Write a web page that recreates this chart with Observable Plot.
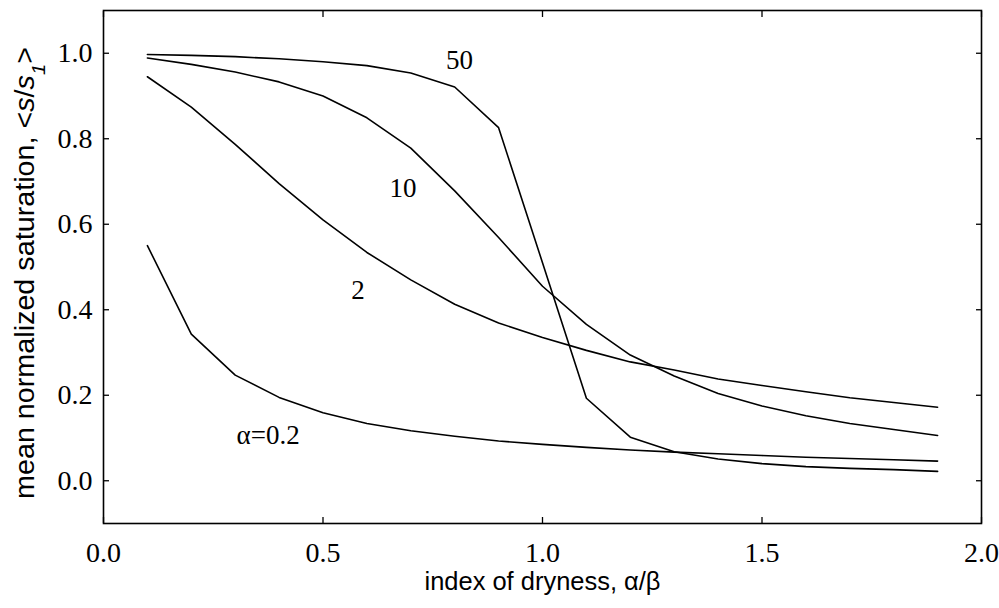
<!DOCTYPE html>
<html><head><meta charset="utf-8">
<script src="https://cdn.jsdelivr.net/npm/d3@7"></script>
<script src="https://cdn.jsdelivr.net/npm/@observablehq/plot@0.6"></script>
<style>body{margin:0;background:#fff}svg{display:block}</style>
</head><body><div id="chart"></div>
<script>
const dryness = [0.1,0.2,0.3,0.4,0.5,0.6,0.7,0.8,0.9,1.0,1.1,1.2,1.3,1.4,1.5,1.6,1.7,1.8,1.9];
const alpha02 = [0.550,0.343,0.247,0.195,0.159,0.134,0.117,0.104,0.093,0.085,0.078,0.072,0.067,0.063,0.059,0.055,0.052,0.049,0.046];
const alpha2  = [0.945,0.874,0.787,0.695,0.610,0.534,0.470,0.413,0.369,0.335,0.305,0.278,0.259,0.238,0.223,0.208,0.194,0.183,0.172];
const alpha10 = [0.989,0.974,0.956,0.933,0.900,0.849,0.778,0.678,0.569,0.455,0.366,0.294,0.245,0.204,0.175,0.152,0.134,0.120,0.106];
const alpha50 = [0.997,0.995,0.992,0.987,0.980,0.971,0.954,0.921,0.826,0.510,0.193,0.102,0.068,0.051,0.040,0.033,0.029,0.026,0.022];
const seriesNames = ["0.2","2","10","50"];
const seriesValues = [alpha02, alpha2, alpha10, alpha50];
const curveLabels = ["α=0.2","2","10","50"];
const curveLabelX = [0.375,0.58,0.682,0.811];
const curveLabelY = [0.107,0.445,0.685,0.984];
const xTicks = [0.0,0.5,1.0,1.5,2.0];
const yTicks = [0.0,0.2,0.4,0.6,0.8,1.0];
const xTitle = "index of dryness, α/β";
const yTitle = "mean normalized saturation, <s/s1>";

const rows = [];
seriesNames.forEach((s, i) => dryness.forEach((x, j) => rows.push({series: s, x, y: seriesValues[i][j]})));
const labelRows = curveLabels.map((t, i) => ({t, x: curveLabelX[i], y: curveLabelY[i]}));
const fmt = d3.format(".1f");

const chart = Plot.plot({
  width: 999, height: 608,
  marginLeft: 103, marginRight: 18, marginTop: 10, marginBottom: 85,
  x: {domain: [0, 2]},
  y: {domain: [-0.1, 1.1]},
  style: {fontFamily: "Liberation Serif", fontSize: "28px", color: "#000", background: "#fff"},
  marks: [
    Plot.axisX({ticks: xTicks, tickFormat: fmt, tickSize: -6, tickPadding: 25, label: null, strokeWidth: 1.3}),
    Plot.axisX({anchor: "top", ticks: xTicks, tickFormat: () => "", tickSize: -6, label: null, strokeWidth: 1.3}),
    Plot.axisY({ticks: yTicks, tickFormat: fmt, tickSize: -6, tickPadding: 17, label: null, strokeWidth: 1.3}),
    Plot.axisY({anchor: "right", ticks: yTicks, tickFormat: () => "", tickSize: -6, label: null, strokeWidth: 1.3}),
    Plot.frame({stroke: "#000", strokeWidth: 1.6}),
    Plot.line(rows, {x: "x", y: "y", z: "series", stroke: "#000", strokeWidth: 1.6}),
    Plot.text(labelRows, {x: "x", y: "y", text: "t", fontFamily: "Liberation Serif", fontSize: 27, fill: "#000"}),
    Plot.text([xTitle], {frameAnchor: "bottom", dy: 66, fontFamily: "Liberation Sans", fontSize: 26, fill: "#000", className: "xtitle"}),
    Plot.text([yTitle], {frameAnchor: "left", textAnchor: "middle", rotate: -90, dx: -78, dy: 6, fontFamily: "Liberation Sans", fontSize: 27, fill: "#000", className: "ytitle"})
  ]
});
document.getElementById("chart").appendChild(chart);
const xt = chart.querySelector(".xtitle text");
if (xt) { xt.setAttribute("textLength", "236"); xt.setAttribute("lengthAdjust", "spacingAndGlyphs"); }
// italic s and subscript 1 in y title
const yt = chart.querySelector(".ytitle text");
if (yt) {
  yt.textContent = "";
  const ns = "http://www.w3.org/2000/svg";
  const parts = [["mean normalized saturation, <", null], ["s", "italic"], ["/", null], ["s", "italic"], ["1", "sub"], [">", null]];
  for (const [t, st] of parts) {
    const sp = document.createElementNS(ns, "tspan");
    sp.textContent = t;
    if (st === "italic") sp.setAttribute("font-style", "italic");
    if (st === "sub") { sp.setAttribute("font-size", "19"); sp.setAttribute("font-style", "italic"); sp.setAttribute("baseline-shift", "sub"); }
    yt.appendChild(sp);
  }
  yt.setAttribute("textLength", "452");
  yt.setAttribute("lengthAdjust", "spacingAndGlyphs");
}
</script>
</body></html>
